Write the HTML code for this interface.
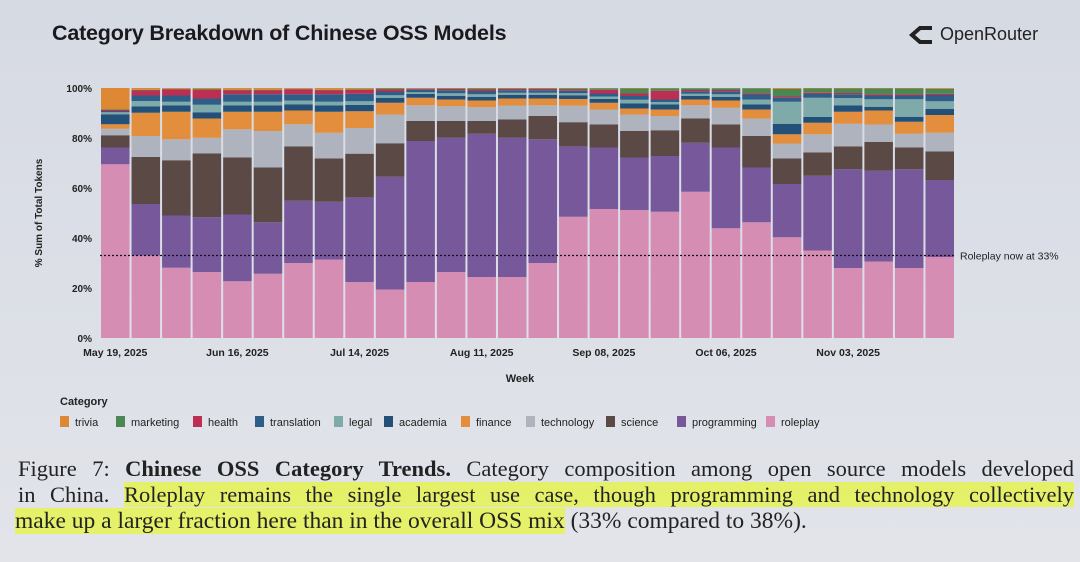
<!DOCTYPE html>
<html><head><meta charset="utf-8">
<style>
html,body{margin:0;padding:0}
body{width:1080px;height:562px;overflow:hidden;background:linear-gradient(180deg,#d6dae3 0%,#dde0e7 60%,#e2e4ea 100%);position:relative;font-family:"Liberation Sans",sans-serif}
#title{position:absolute;left:52px;top:21px;font-size:21.5px;font-weight:bold;color:#1a1a1e;letter-spacing:-0.2px}
#logo{position:absolute;left:908px;top:24px;font-size:18px;color:#222;display:flex;align-items:center;gap:6px}
#caption{position:absolute;left:18px;top:456px;width:1056px;font-family:"Liberation Serif",serif;font-size:22.5px;line-height:26px;color:#222}
#caption div{text-align:justify;text-align-last:justify;white-space:nowrap}
#caption div.last{text-align-last:left;font-size:23.5px;margin-left:-3px}
.hl{background:rgba(230,245,60,0.75)}
</style></head><body>
<div id="title">Category Breakdown of Chinese OSS Models</div>
<div id="logo"><svg width="26" height="20" viewBox="0 0 26 20"><path d="M24 3 L12 3 L4 10 L12 17 L24 17" fill="none" stroke="#222" stroke-width="4"/></svg><span>OpenRouter</span></div>
<svg id="chart" width="1080" height="450" style="position:absolute;left:0;top:0"></svg>
<div id="caption">
<div>Figure 7: <b>Chinese OSS Category Trends.</b> Category composition among open source models developed</div>
<div>in China. <span class="hl">Roleplay remains the single largest use case, though programming and technology collectively</span></div>
<div class="last"><span class="hl">make up a larger fraction here than in the overall OSS mix</span> (33% compared to 38%).</div>
</div>
<script>
const categories=["roleplay","programming","science","technology","finance","academia","legal","translation","health","marketing","trivia"];
const colors=["#d68db4","#77589b","#5a4944","#afb3bd","#e38e3c","#235079","#7eaaa9","#2e5e88","#bd2f52","#4a8752","#df8833"];
const weekLabels=["May 19, 2025","Jun 16, 2025","Jul 14, 2025","Aug 11, 2025","Sep 08, 2025","Oct 06, 2025","Nov 03, 2025"];
const yTicks=[0,20,40,60,80,100];
const roleplay=[69.5,33.0,28.1,26.4,22.7,25.7,30.0,31.4,22.4,19.4,22.4,26.4,24.4,24.4,30.0,48.6,51.6,51.2,50.5,58.5,43.9,46.3,40.3,35.0,28.0,30.6,28.0,32.4];
const programming=[6.7,20.6,20.9,21.9,26.7,20.6,24.9,23.1,33.9,45.1,56.4,53.7,57.3,55.7,49.5,28.2,24.6,21.0,22.3,19.6,32.3,21.9,21.3,29.9,39.5,36.3,39.5,30.8];
const science=[4.9,18.8,22.1,25.5,22.8,21.9,21.7,17.3,17.5,13.4,8.0,6.7,5.1,7.3,9.3,9.7,9.2,10.6,10.3,9.7,9.2,12.6,10.2,9.3,9.1,11.5,8.7,11.4];
const technology=[2.6,8.4,8.4,6.3,11.3,14.6,8.9,10.3,10.3,11.5,6.3,5.9,5.5,5.6,4.3,6.6,6.0,6.6,5.7,5.3,6.7,7.0,6.0,7.3,9.1,7.0,5.5,7.5];
const finance=[1.8,9.3,11.0,7.7,7.0,7.7,5.5,8.4,6.7,4.7,3.0,2.7,2.7,2.8,2.7,2.7,2.7,2.4,2.6,2.3,2.9,3.6,3.7,4.6,4.8,5.6,4.8,7.1];
const academia=[4.0,2.5,2.5,2.5,2.5,2.5,2.5,2.5,2.5,2.0,1.5,1.5,1.5,1.5,1.5,1.5,1.5,2.0,2.0,1.5,1.5,2.0,4.2,2.3,2.5,1.5,2.0,2.5];
const legal=[0.8,2.2,1.5,3.0,1.5,1.5,1.5,1.5,1.5,1.0,0.7,1.0,1.0,0.8,0.8,0.8,1.0,1.5,1.0,0.8,1.0,2.0,8.8,7.7,3.0,3.0,7.0,3.0];
const translation=[0.5,2.2,2.5,2.5,3.0,3.0,2.5,3.0,3.0,1.5,1.0,1.2,1.3,1.0,1.0,1.0,1.2,1.5,1.0,1.0,1.2,2.0,1.6,1.5,1.5,1.5,1.5,2.5];
const health=[0.4,2.0,2.5,3.5,1.5,1.5,2.0,1.5,1.5,0.8,0.4,0.5,0.6,0.5,0.5,0.5,1.5,1.0,3.5,0.5,0.5,0.5,0.5,0.5,0.5,0.5,0.5,0.5];
const marketing=[0.2,0.3,0.2,0.3,0.3,0.3,0.2,0.3,0.3,0.4,0.2,0.3,0.4,0.3,0.3,0.5,0.6,2.0,1.0,0.7,0.7,2.0,3.0,1.7,1.8,2.3,2.3,2.0];
const trivia=[8.6,0.7,0.3,0.4,0.7,0.7,0.3,0.7,0.5,0.2,0.1,0.1,0.2,0.1,0.1,0.1,0.1,0.2,0.1,0.1,0.1,0.1,0.4,0.2,0.2,0.2,0.2,0.3];
const series=[roleplay,programming,science,technology,finance,academia,legal,translation,health,marketing,trivia];
const refValue=33;

const NS="http://www.w3.org/2000/svg";
const svg=document.getElementById('chart');
const X0=100,X1=955,Y0=338,Y1=88;
const n=roleplay.length, bw=(X1-X0)/n;
const yScale=v=>Y0-(v/100)*(Y0-Y1);
const xScale=i=>X0+i*bw;
function mk(tag,attrs,parent){const e=document.createElementNS(NS,tag);for(const k in attrs)e.setAttribute(k,attrs[k]);(parent||svg).appendChild(e);return e;}

for(let i=0;i<n;i++){
  const g=mk('g',{});
  
  
  let tot=0;for(const s of series)tot+=s[i];
  let cum=0;
  series.forEach((s,k)=>{
    const v=s[i]/tot*100;
    const r=mk('rect',{x:xScale(i)+1,width:bw-2,y:yScale(cum+v),height:yScale(cum)-yScale(cum+v),fill:colors[k]},g);
    
    
    cum+=v;
  });
}
yTicks.forEach(t=>{
  const tx=mk('text',{x:92,y:yScale(t)+4,'text-anchor':'end','font-size':10,'font-weight':'bold',fill:'#222'});
  tx.textContent=t+'%';
  
  
});
weekLabels.forEach((l,j)=>{
  const tx=mk('text',{x:xScale(j*4)+bw/2,y:356,'text-anchor':'middle','font-size':10.5,'font-weight':'bold',fill:'#222'});
  tx.textContent=l;
  
  
});
const ln=mk('line',{x1:X0,x2:X1,y1:yScale(refValue),y2:yScale(refValue),stroke:'#111','stroke-width':1.2,'stroke-dasharray':'2,2'});


const an=mk('text',{x:960,y:yScale(refValue)+4,'font-size':10.5,fill:'#222'});
an.textContent='Roleplay now at '+refValue+'%';


const yt=mk('text',{x:0,y:0,transform:'translate(42,213) rotate(-90)','text-anchor':'middle','font-size':10,'font-weight':'bold',fill:'#222'});
yt.textContent='% Sum of Total Tokens';


const xt=mk('text',{x:520,y:382,'text-anchor':'middle','font-size':11,'font-weight':'bold',fill:'#222'});
xt.textContent='Week';


const lt=mk('text',{x:60,y:405,'font-size':11,'font-weight':'bold',fill:'#222'});
lt.textContent='Category';


const legOrder=[10,9,8,7,6,5,4,3,2,1,0];
const legX=[60,116,193,255,334,384,461,526,606,677,766];
legOrder.forEach((k,j)=>{
  const g=mk('g',{});
  
  
  mk('rect',{x:legX[j],y:416,width:9,height:11,fill:colors[k]},g);
  const tx=mk('text',{x:legX[j]+15,y:426,'font-size':11,fill:'#222'},g);
  tx.textContent=categories[k];
});
</script>
</body></html>
